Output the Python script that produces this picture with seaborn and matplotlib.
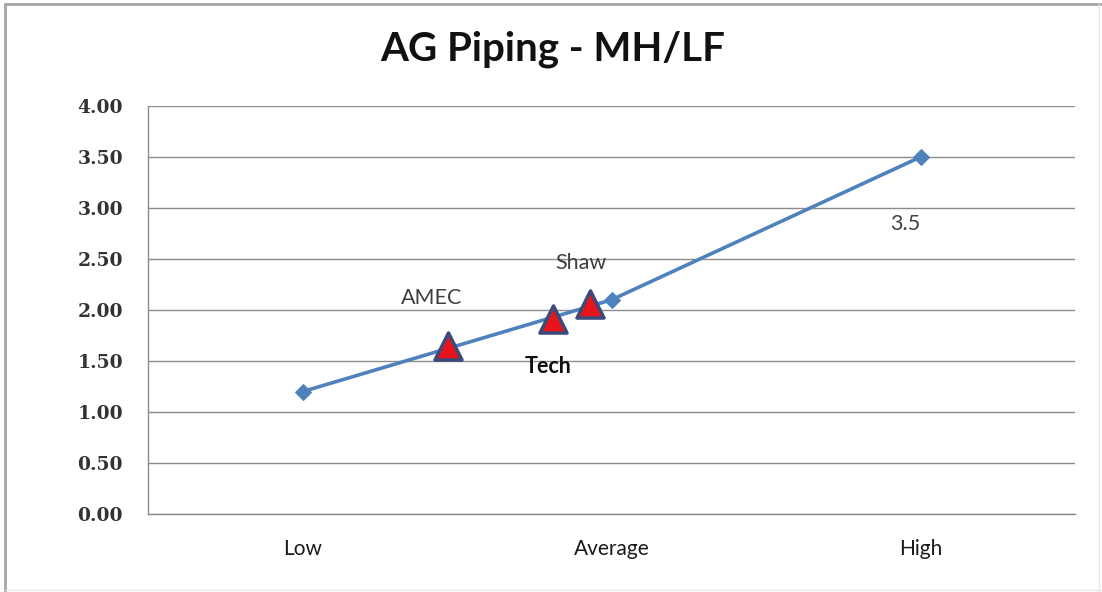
import matplotlib
matplotlib.use("Agg")
import matplotlib.pyplot as plt
from matplotlib.lines import Line2D
import seaborn as sns
import pandas as pd

# Range line: low / average / high benchmark
categories = ["Low", "Average", "High"]
category_pos = [0.5, 1.5, 2.5]
range_values = [1.2, 2.1, 3.5]

# Company scores placed along the range
companies = ["AMEC", "Tech", "Shaw"]
company_pos = [0.97, 1.31, 1.43]
company_scores = [1.65, 1.91, 2.06]

y_ticks = [0.0, 0.5, 1.0, 1.5, 2.0, 2.5, 3.0, 3.5, 4.0]

sns.set_theme(style="white")
plt.rcParams["font.family"] = ["Lato", "DejaVu Sans"]

fig = plt.figure(figsize=(11.02, 5.92), dpi=100)
ax = fig.add_axes([148 / 1102, 1 - 514 / 592, (1075 - 148) / 1102, (514 - 106) / 592])

range_df = pd.DataFrame({"pos": category_pos, "value": range_values})
comp_df = pd.DataFrame({"pos": company_pos, "value": company_scores, "name": companies})

blue = "#4F81BD"
sns.lineplot(data=range_df, x="pos", y="value", ax=ax, color=blue, linewidth=2.6,
             marker="D", markersize=8, markeredgecolor=blue, markerfacecolor=blue, zorder=3)
sns.scatterplot(data=comp_df, x="pos", y="value", ax=ax, marker="^", s=380,
                color="#E8141B", edgecolor="#3A4A7A", linewidth=2.5, zorder=4)

ax.set_xlim(0, 3)
ax.set_ylim(0, 4)
ax.set_yticks(y_ticks)
ax.set_yticklabels([f"{v:.2f}" for v in y_ticks], fontfamily="DejaVu Serif",
                   fontsize=13.5, color="#333333", fontweight="bold")
ax.set_xticks([0, 1, 2, 3])
ax.set_xticklabels([])
ax.set_xticks(category_pos, minor=True)
ax.set_xticklabels(categories, minor=True, fontsize=15, color="#1a1a1a")
ax.tick_params(axis="x", which="minor", length=0, pad=18)
ax.tick_params(axis="x", which="major", length=6, width=1, color="#8c8c8c", direction="out")
ax.tick_params(axis="y", length=7, width=1, color="#8c8c8c", direction="out", pad=11)
ax.set_xlabel("")
ax.set_ylabel("")

ax.yaxis.grid(True, color="#8c8c8c", linewidth=1)
ax.set_axisbelow(True)
for side in ["top", "right"]:
    ax.spines[side].set_visible(False)
for side in ["left", "bottom"]:
    ax.spines[side].set_color("#8c8c8c")
    ax.spines[side].set_linewidth(1)

# Data labels
label_offsets = {"AMEC": (-16, 48), "Tech": (-5, -47), "Shaw": (-9, 41)}
label_weights = {"AMEC": "normal", "Tech": "bold", "Shaw": "normal"}
label_colors = {"AMEC": "#404040", "Tech": "#111111", "Shaw": "#404040"}
for name, x, y in zip(companies, company_pos, company_scores):
    ax.annotate(name, (x, y), xytext=label_offsets[name], textcoords="offset pixels",
                ha="center", va="center", fontsize=15.5, fontweight=label_weights[name],
                color=label_colors[name])
ax.annotate(f"{range_values[-1]:g}", (category_pos[-1], range_values[-1]), xytext=(-15, -67),
            textcoords="offset pixels", ha="center", va="center", fontsize=15.5, color="#404040")

fig.text(553 / 1102, 1 - 49 / 592, "AG Piping - MH/LF", ha="center", va="center",
         fontsize=29, fontweight="bold", color="#111111")

# Chart frame
fig.add_artist(Line2D([5 / 1102, 5 / 1102], [0, 1 - 4 / 592], transform=fig.transFigure,
                      color="#a6a6a6", linewidth=2))
fig.add_artist(Line2D([5 / 1102, 1], [1 - 4 / 592, 1 - 4 / 592], transform=fig.transFigure,
                      color="#a6a6a6", linewidth=2))
fig.add_artist(Line2D([1099 / 1102, 1099 / 1102], [0, 1 - 4 / 592], transform=fig.transFigure,
                      color="#e6e6e6", linewidth=1))
fig.add_artist(Line2D([5 / 1102, 1], [2 / 592, 2 / 592], transform=fig.transFigure,
                      color="#e6e6e6", linewidth=1))

fig.savefig("out.png", dpi=100)
